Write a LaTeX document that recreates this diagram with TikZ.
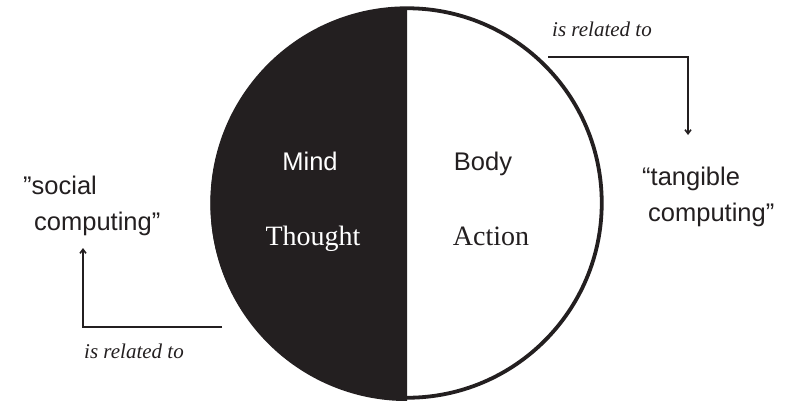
\documentclass[tikz,border=0pt]{standalone}
\usepackage{fontspec}
\setmainfont{Liberation Serif}
\setsansfont{Liberation Sans}
\usepackage{xcolor}
\definecolor{ink}{HTML}{231F20}
\usetikzlibrary{arrows.meta,positioning}

\begin{document}
\begin{tikzpicture}[
  x=1pt,y=-1pt,
  sanslabel/.style={font=\sffamily\fontsize{25.5}{36}\selectfont,inner sep=0pt,align=left},
  seriflabel/.style={font=\rmfamily\fontsize{28}{32}\selectfont,inner sep=0pt,anchor=base},
  rellabel/.style={font=\rmfamily\itshape\fontsize{21}{24}\selectfont,inner sep=0pt,anchor=base},
  rel/.style={-{Straight Barb[length=4pt,width=6pt]},draw=ink,line width=1.6pt}
]
\useasboundingbox (0,0) rectangle (796,400);
% the disc, dark half on the left
\node[circle,minimum size=389.5pt,inner sep=0pt] (disc) at (407,203) {};
\fill[ink] (disc.north) arc[start angle=90,end angle=270,radius=196.5pt] -- cycle;
\draw[ink,line width=3.8pt] (disc.center) circle[radius=194.75pt];
% texts inside
\node[sanslabel,text=white,anchor=base] (mind) at (310,170) {Mind};
\node[sanslabel,text=ink,anchor=base] (body) at (483,170) {Body};
\node[seriflabel,text=white] (thought) at (313,245) {Thought};
\node[seriflabel,text=ink] (action) at (491,245) {Action};
% outer notions
\node[sanslabel,text=ink,anchor=west] (social) at (23,206) {”social\\\hspace{11pt}computing”};
\node[sanslabel,text=ink,anchor=west] (tangible) at (642,197) {“tangible\\\hspace{6pt}computing”};
\node[rellabel,text=ink] (relleft) at (134,358) {is related to};
\node[rellabel,text=ink] (relright) at (602,36) {is related to};
% connectors
\coordinate (lstart) at (222,327);
\coordinate (lend) at (83,248);
\coordinate (rstart) at (548,57);
\coordinate (rend) at (688,135);
\draw[rel] (lstart) -| (lend);
\draw[rel] (rstart) -| (rend);
\end{tikzpicture}
\end{document}
